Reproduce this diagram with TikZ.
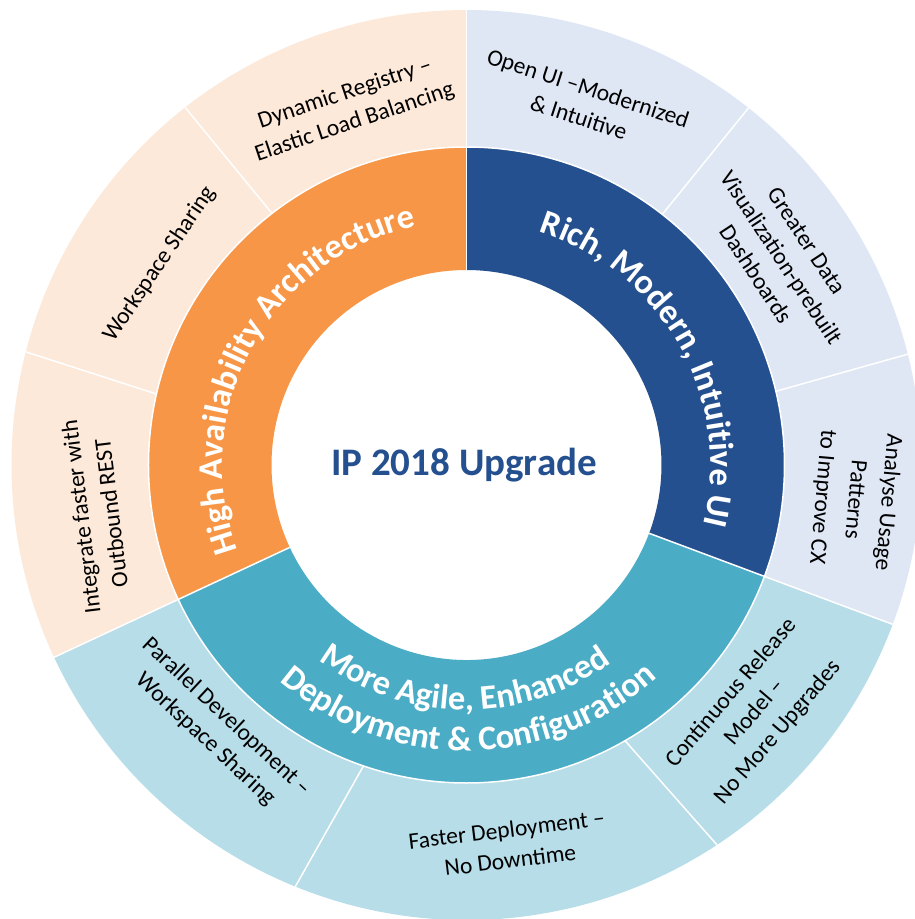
\documentclass[tikz,border=0pt]{standalone}
\usepackage{fontspec}
\setmainfont{Carlito}
\usepackage{tikz}
\usetikzlibrary{decorations.text}
\usepackage{xcolor}
\definecolor{iporange}{RGB}{247,150,70}
\definecolor{ipblue}{RGB}{37,80,143}
\definecolor{ipteal}{RGB}{75,172,198}
\definecolor{iplightorange}{RGB}{253,233,217}
\definecolor{iplightblue}{RGB}{223,231,245}
\definecolor{iplightteal}{RGB}{183,221,232}
\newcommand{\ringfont}{\fontsize{34.5}{40}\selectfont\bfseries}
\tikzstyle{leaf} = [align=center, font=\fontsize{23.5}{30.5}\selectfont, text=black, inner sep=0pt]
\tikzstyle{sep} = [draw=white, line width=1.5pt]

\begin{document}
\begin{tikzpicture}[x=1pt, y=1pt]
\useasboundingbox[fill=white] (-466.5,-454) rectangle (448.5,465);

% outer ring
\fill[iplightorange] (90:318) arc[start angle=90, end angle=205, radius=318] -- (205:455) arc[start angle=205, end angle=90, radius=455] -- cycle;
\fill[iplightblue] (-20.5:318) arc[start angle=-20.5, end angle=90, radius=318] -- (90:455) arc[start angle=90, end angle=-20.5, radius=455] -- cycle;
\fill[iplightteal] (205:318) arc[start angle=205, end angle=339.5, radius=318] -- (339.5:455) arc[start angle=339.5, end angle=205, radius=455] -- cycle;

% middle ring
\fill[iporange] (90:195) arc[start angle=90, end angle=205, radius=195] -- (205:318) arc[start angle=205, end angle=90, radius=318] -- cycle;
\fill[ipblue] (-20.5:195) arc[start angle=-20.5, end angle=90, radius=195] -- (90:318) arc[start angle=90, end angle=-20.5, radius=318] -- cycle;
\fill[ipteal] (205:195) arc[start angle=205, end angle=339.5, radius=195] -- (339.5:318) arc[start angle=339.5, end angle=205, radius=318] -- cycle;

% separators
\draw[sep] (0,0) circle (318);
\foreach \a in {90,205,-20.5}
  \draw[sep] (\a:195) -- (\a:455);
\foreach \ai/\ao in {127.7/128.2, 167.1/165.6, 251.1/247.9, -60.1/-56.6, 13.4/14.1, 52/51.7}
  \draw[sep] (\ai:318) -- (\ao:455);

% centre
\node (title) [anchor=base, font=\fontsize{39}{47}\selectfont\bfseries, text=ipblue] at (-2.5,-10) {IP 2018 Upgrade};

% middle ring labels
\path[decorate, decoration={text along path, text align=center, text color=white,
  text={|\ringfont|High Availability Architecture}}]
  (231.2:244) arc[start angle=231.2, end angle=71.2, radius=244];
\path[decorate, decoration={text along path, text align=center, text color=white,
  text={|\ringfont|Rich, Modern, Intuitive UI}}]
  (109.35:244) arc[start angle=109.35, end angle=-50.65, radius=244];
\path[decorate, decoration={text along path, text align=center, text color=white,
  text={|\ringfont|More Agile, Enhanced}}]
  (189.5:245) arc[start angle=189.5, end angle=349.5, radius=245];
\path[decorate, decoration={text along path, text align=center, text color=white,
  text={|\ringfont|Deployment {\&} Configuration}}]
  (190.5:286) arc[start angle=190.5, end angle=350.5, radius=286];

% outer ring labels
\node (dynreg) [leaf, rotate=18.5] at (108.1:375.5) {Dynamic Registry –\\Elastic Load Balancing};
\node (wsshare) [leaf, rotate=56] at (146.8:367) {Workspace Sharing};
\node (integ) [leaf, rotate=97] at (187.7:374) {Integrate faster with\\Outbound REST};
\node (openui) [leaf, rotate=-18] at (72.1:381) {Open UI –Modernized\\\& Intuitive};
\node (greater) [leaf, rotate=-56.6] at (33.4:376.8) {Greater Data\\Visualization-prebuilt\\Dashboards};
\node (analyse) [leaf, rotate=-95, font=\fontsize{23.5}{33}\selectfont] at (-5.1:390) {Analyse Usage\\Patterns\\to Improve CX};
\node (contrel) [leaf, rotate=49.5] at (-40.7:380) {Continuous Release\\Model –\\No More Upgrades};
\node (faster) [leaf, rotate=7] at (-83.7:382) {Faster Deployment –\\No Downtime};
\node (parallel) [leaf, rotate=-43] at (226.4:363.6) {Parallel Development –\\Workspace Sharing};
\end{tikzpicture}
\end{document}
